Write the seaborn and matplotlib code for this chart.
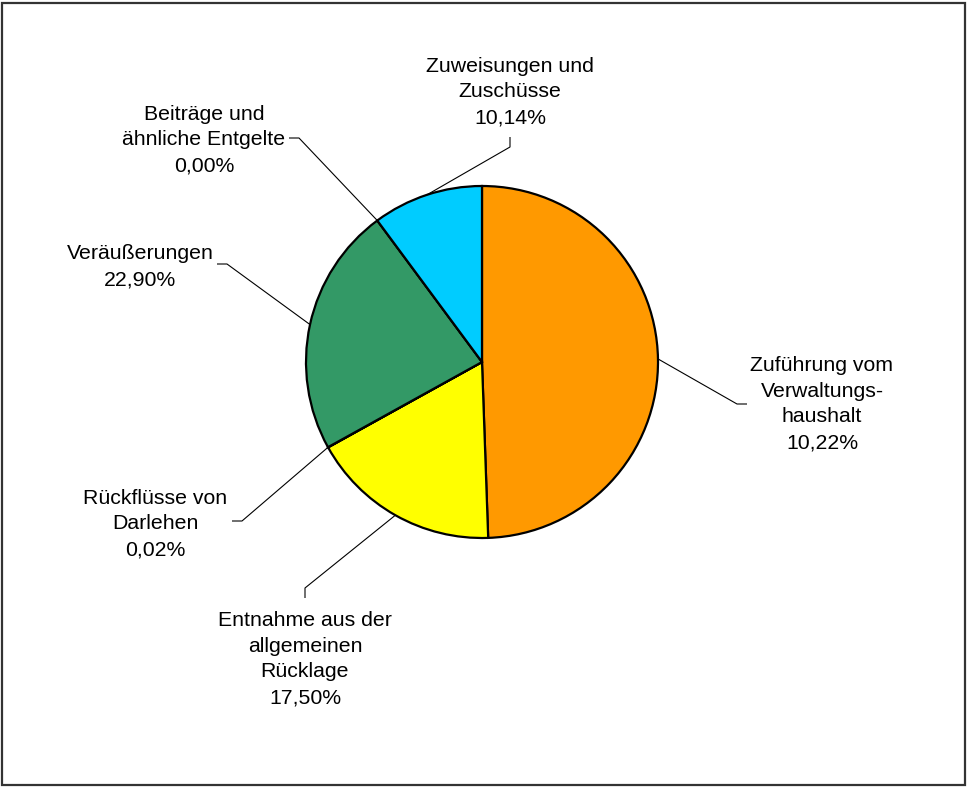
import matplotlib
matplotlib.use("Agg")
import matplotlib.pyplot as plt
import numpy as np
import seaborn as sns
from matplotlib.patches import Rectangle

# slice data, clockwise from 12 o'clock
categories = [
    "Zuführung vom\nVerwaltungs-\nhaushalt",
    "Entnahme aus der\nallgemeinen\nRücklage",
    "Rückflüsse von\nDarlehen",
    "Veräußerungen",
    "Beiträge und\nähnliche Entgelte",
    "Zuweisungen und\nZuschüsse",
]
shares = [49.44, 17.50, 0.02, 22.90, 0.00, 10.14]          # slice sizes as drawn
label_pct = [10.22, 17.50, 0.02, 22.90, 0.00, 10.14]       # percentages printed in labels
colors = ["#FF9900", "#FFFF00", "#339966", "#339966", "#00CCFF", "#00CCFF"]

sns.set_theme(style="white")
plt.rcParams["font.family"] = ["Liberation Sans", "DejaVu Sans"]

W, H = 968, 788
fig = plt.figure(figsize=(W / 100, H / 100), dpi=100)
ax = fig.add_axes([0, 0, 1, 1])


def py(y):
    return H - y


cx, cy, r = 482, py(362), 176
ax.pie(
    shares,
    colors=colors,
    startangle=90,
    counterclock=False,
    center=(cx, cy),
    radius=r,
    wedgeprops=dict(edgecolor="black", linewidth=1.6),
)
ax.set_xlim(0, W)
ax.set_ylim(0, H)
ax.set_aspect("equal")
ax.axis("off")

# label layout: (text x, last baseline y, leader bend, leader end) in pixels
layout = [
    (822, 448, (737, 404), (747, 404)),
    (305, 703, (305, 588), (305, 598)),
    (155, 555, (242, 521), (232, 521)),
    (140, 285, (227, 264), (217, 264)),
    (204, 171, (299, 138), (289, 138)),
    (510, 123, (510, 147), (510, 137)),
]

frac = np.array(shares) / sum(shares)
edges = np.concatenate([[0], np.cumsum(frac)]) * 360
mids = np.deg2rad((edges[:-1] + edges[1:]) / 2)

for name, pct, theta, (tx, ty, bend, end) in zip(categories, label_pct, mids, layout):
    ax_pt = (cx + r * np.sin(theta), cy + r * np.cos(theta))
    xs = [ax_pt[0], bend[0], end[0]]
    ys = [ax_pt[1], py(bend[1]), py(end[1])]
    ax.plot(xs, ys, color="black", linewidth=0.8, solid_capstyle="butt")
    txt = name + "\n" + f"{pct:.2f}%".replace(".", ",")
    ax.text(tx, py(ty), txt, ha="center", va="baseline", fontsize=15.3,
            linespacing=1.45, color="black")

fig.patches.append(Rectangle((2 / W, 3 / H), 963 / W, 782 / H, transform=fig.transFigure,
                             fill=False, edgecolor="#333333", linewidth=1.6))

fig.savefig("out.png", dpi=100, facecolor="white")
